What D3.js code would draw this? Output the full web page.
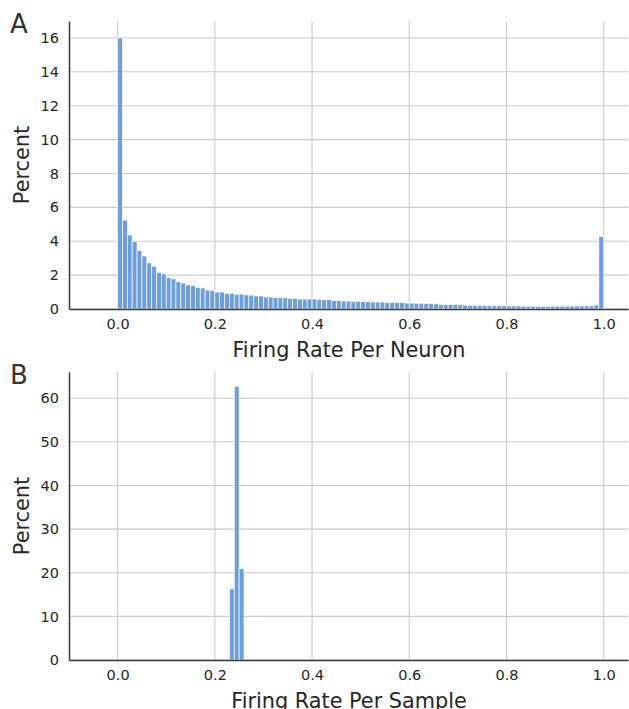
<!DOCTYPE html>
<head>
<meta charset="utf-8">
<style>
  html,body {
    margin: 0;
    background: white;
    font-family: "DejaVu Sans", Verdana, sans-serif;
  }
</style>
<script src="https://d3js.org/d3.v7.min.js"></script>
</head>
<body>
<div id="viz"></div>
<script>
// panel A: percent of neurons per firing-rate bin (bins of 0.01 from 0 to 1)
var binWidth = 0.01;
var percentA = [
  16.0, 5.25, 4.37, 4.0, 3.45, 3.13, 2.72, 2.52, 2.17, 2.07,
  1.86, 1.78, 1.61, 1.53, 1.42, 1.38, 1.27, 1.24, 1.12, 1.10,
  1.0, 1.0, 0.93, 0.93, 0.87, 0.88, 0.83, 0.82, 0.77, 0.77,
  0.71, 0.71, 0.67, 0.67, 0.66, 0.63, 0.63, 0.59, 0.58, 0.59,
  0.59, 0.55, 0.55, 0.55, 0.49, 0.50, 0.47, 0.47, 0.43, 0.46,
  0.44, 0.43, 0.42, 0.41, 0.41, 0.39, 0.39, 0.37, 0.37, 0.35,
  0.35, 0.34, 0.34, 0.32, 0.32, 0.30, 0.27, 0.26, 0.26, 0.26,
  0.25, 0.23, 0.22, 0.21, 0.22, 0.20, 0.19, 0.19, 0.19, 0.19,
  0.18, 0.18, 0.18, 0.17, 0.17, 0.17, 0.16, 0.16, 0.16, 0.17,
  0.17, 0.17, 0.17, 0.17, 0.18, 0.18, 0.18, 0.19, 0.24, 4.27
];
// panel B: percent of samples per firing-rate bin
var binStartsB = [0.23, 0.24, 0.25];
var percentB = [16.3, 62.7, 20.9];

var xTicks = [0.0, 0.2, 0.4, 0.6, 0.8, 1.0];
var yTicksA = [0, 2, 4, 6, 8, 10, 12, 14, 16];
var yTicksB = [0, 10, 20, 30, 40, 50, 60];

var W = 629, H = 709;
var barColor = "#6d9ee0";
var gridColor = "#cccccc";
var textColor = "#262626";

var svg = d3.select("#viz").append("svg")
  .attr("width", W).attr("height", H);

const drawPanel = (opts) => {
  var x = d3.scaleLinear().domain([-0.1, 1.05]).range([69, 628]);
  var y = d3.scaleLinear().domain([0, opts.yMax]).range([opts.bottom, opts.top]);
  var g = svg.append("g");

  // grid
  g.selectAll(".vgrid").data(xTicks).enter().append("line")
    .attr("x1", d => x(d)).attr("x2", d => x(d))
    .attr("y1", opts.top).attr("y2", opts.bottom)
    .style("stroke", gridColor).style("stroke-width", 1.1);
  g.selectAll(".hgrid").data(opts.yTicks).enter().append("line")
    .attr("x1", 69).attr("x2", 628)
    .attr("y1", d => y(d)).attr("y2", d => y(d))
    .style("stroke", gridColor).style("stroke-width", 1.1);

  // bars
  g.selectAll("rect").data(opts.bars).enter().append("rect")
    .attr("x", d => x(d.x0))
    .attr("width", d => x(d.x0 + binWidth) - x(d.x0))
    .attr("y", d => y(d.v))
    .attr("height", d => y(0) - y(d.v))
    .style("fill", barColor)
    .style("stroke", "white")
    .style("stroke-width", 0.7);

  // axes (no tick marks, only labels)
  var xAxis = d3.axisBottom(x).tickValues(xTicks).tickFormat(d3.format(".1f")).tickSize(0).tickPadding(10);
  var yAxis = d3.axisLeft(y).tickValues(opts.yTicks).tickSize(0).tickPadding(10);
  var xa = g.append("g").attr("transform", "translate(0," + opts.bottom + ")").call(xAxis);
  var ya = g.append("g").attr("transform", "translate(69,0)").call(yAxis);
  [xa, ya].forEach(a => {
    a.select(".domain").style("stroke", "#3a3a3a").style("stroke-width", 1.5);
    a.selectAll("text").style("font-family", "DejaVu Sans").style("font-size", "14.5px").style("fill", textColor);
  });

  g.append("text")
    .attr("x", 349).attr("y", opts.bottom + 48)
    .attr("text-anchor", "middle")
    .style("font-size", "20.8px").style("fill", textColor)
    .text(opts.xLabel);
  g.append("text")
    .attr("transform", "translate(29," + ((opts.top + opts.bottom) / 2) + ") rotate(-90)")
    .attr("text-anchor", "middle")
    .style("font-size", "20.8px").style("fill", textColor)
    .text("Percent");
  g.append("text")
    .attr("x", 10).attr("y", opts.top + 12)
    .style("font-size", "26px").style("fill", "#333")
    .text(opts.letter);
};

drawPanel({
  top: 21, bottom: 309, yMax: 17, yTicks: yTicksA,
  bars: percentA.map((v, i) => ({x0: i * binWidth, v: v})),
  xLabel: "Firing Rate Per Neuron", letter: "A"
});
drawPanel({
  top: 372, bottom: 660, yMax: 66, yTicks: yTicksB,
  bars: percentB.map((v, i) => ({x0: binStartsB[i], v: v})),
  xLabel: "Firing Rate Per Sample", letter: "B"
});
</script>
</body>
</html>
